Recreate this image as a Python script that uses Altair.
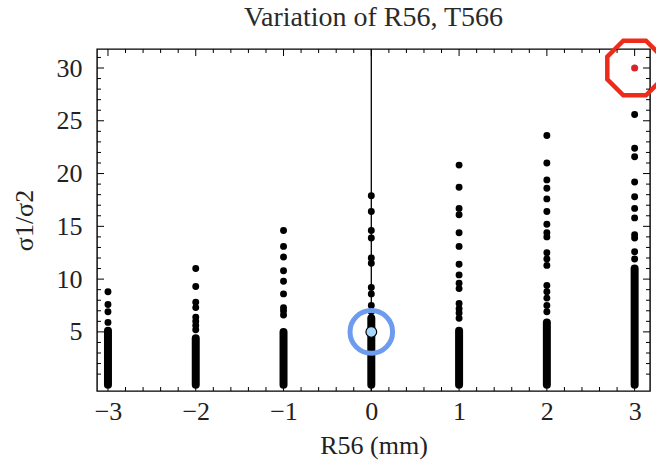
import altair as alt
import pandas as pd

# ---- data ----
x_cols = [-3, -2, -1, 0, 1, 2, 3]
# top of the densely packed (solid-looking) part of each column
dense_top = [5.1, 4.4, 5.0, 6.3, 5.1, 5.9, 11.0]
# separate points above the dense part
dots_m3 = [5.9, 6.9, 7.6, 8.8]
dots_m2 = [5.2, 5.6, 6.0, 6.4, 7.3, 7.8, 9.3, 11.0]
dots_m1 = [6.6, 7.0, 7.3, 8.6, 9.8, 10.8, 12.1, 13.1, 14.6]
dots_0 = [6.9, 7.5, 8.6, 9.2, 11.5, 12.0, 13.9, 14.6, 16.4, 17.9]
dots_p1 = [6.3, 6.8, 7.2, 7.7, 9.1, 9.6, 10.4, 11.4, 13.1, 14.4, 16.1, 16.7, 18.7, 20.8]
dots_p2 = [6.9, 7.5, 8.2, 8.8, 9.4, 11.3, 11.9, 12.5, 14.0, 14.4, 15.2, 16.4, 17.6, 18.6, 19.4, 21.0, 23.6]
dots_p3 = [11.9, 12.6, 13.9, 14.2, 15.8, 16.7, 17.8, 19.2, 21.6, 22.4, 25.6]
blue_pt = (0, 5.0)
red_pt = (3, 30.0)

x_major = [-3, -2, -1, 0, 1, 2, 3]
x_minor = [k / 5 for k in range(-15, 16) if k % 5 != 0]
y_major = [5, 10, 15, 20, 25, 30]
y_minor = [k for k in range(0, 32) if k % 5 != 0]

W, H = 553, 342
FONT = "Liberation Serif"
TXT = "#222222"
xs = alt.Scale(domain=[-3.125, 3.175], nice=False, zero=False)
ys = alt.Scale(domain=[-0.6, 31.8], nice=False, zero=False)

dense_df = pd.DataFrame({"x": x_cols, "y0": [0] * len(x_cols), "y1": dense_top})
rows = []
for xv, lst in zip(x_cols, [dots_m3, dots_m2, dots_m1, dots_0, dots_p1, dots_p2, dots_p3]):
    for v in lst:
        rows.append({"x": xv, "y": v})
dots_df = pd.DataFrame(rows)

common_axis = dict(tickSize=0, domain=False, grid=False,
                   labelFont=FONT, labelFontSize=26, labelColor=TXT,
                   titleFont=FONT, titleFontSize=26, titleColor=TXT, titleFontWeight="normal")
x_axis = alt.Axis(values=x_major, format="d", title="R56 (mm)", labelPadding=7, titlePadding=8,
                  **common_axis)
y_axis = alt.Axis(values=y_major, format="d", title="σ1/σ2", labelPadding=15, titlePadding=19,
                  **common_axis)
X = alt.X("x:Q", scale=xs, axis=x_axis)
Y = alt.Y("y:Q", scale=ys, axis=y_axis)

axis_line = alt.Chart(pd.DataFrame({"x": [0]})).mark_rule(color="black", strokeWidth=1.3).encode(x=X)

dense = alt.Chart(dense_df).mark_rule(color="black", strokeWidth=8, strokeCap="round").encode(
    x=X, y=alt.Y("y0:Q", scale=ys, axis=y_axis), y2="y1:Q")

dots = alt.Chart(dots_df).mark_circle(color="black", size=48, opacity=1).encode(x=X, y=Y)

blue_df = pd.DataFrame({"x": [blue_pt[0]], "y": [blue_pt[1]]})
red_df = pd.DataFrame({"x": [red_pt[0]], "y": [red_pt[1]]})

blue_ring = alt.Chart(blue_df).mark_point(shape="circle", size=1810, filled=False,
                                          stroke="#6d9cef", strokeWidth=5, opacity=1).encode(x=X, y=Y)
blue_dot = alt.Chart(blue_df).mark_point(shape="circle", size=115, filled=True, fill="#a9d6fb",
                                         stroke="black", strokeWidth=1.2, opacity=1).encode(x=X, y=Y)
red_dot = alt.Chart(red_df).mark_circle(color="#d6262a", size=50, opacity=1).encode(x=X, y=Y)
octagon = ("M0.924,0.383 L0.383,0.924 L-0.383,0.924 L-0.924,0.383 L-0.924,-0.383 "
           "L-0.383,-0.924 L0.383,-0.924 L0.924,-0.383 Z")
red_ring = alt.Chart(red_df).mark_point(shape=octagon, size=3500, filled=False,
                                        stroke="#ee2a1b", strokeWidth=4.5, opacity=1).encode(x=X, y=Y)

def vticks(vals, length, top):
    df = pd.DataFrame({"x": vals})
    if top:
        return alt.Chart(df).mark_rule(color="black", strokeWidth=1).encode(
            x=X, y=alt.value(0), y2=alt.value(length))
    return alt.Chart(df).mark_rule(color="black", strokeWidth=1).encode(
        x=X, y=alt.value(H), y2=alt.value(H - length))

def hticks(vals, length, right):
    df = pd.DataFrame({"y": vals})
    if right:
        return alt.Chart(df).mark_rule(color="black", strokeWidth=1).encode(
            y=Y, x=alt.value(W), x2=alt.value(W - length))
    return alt.Chart(df).mark_rule(color="black", strokeWidth=1).encode(
        y=Y, x=alt.value(0), x2=alt.value(length))

ticks = [
    vticks(x_major, 7, False), vticks(x_minor, 4, False),
    vticks(x_major, 7, True), vticks(x_minor, 4, True),
    hticks(y_major, 7, False), hticks(y_minor, 4, False),
    hticks(y_major, 7, True), hticks(y_minor, 4, True),
]

chart = alt.layer(dense, axis_line, dots, blue_ring, blue_dot, red_dot, red_ring, *ticks).properties(
    width=W, height=H,
    background="white",
    padding={"left": 97, "top": 49, "right": 6, "bottom": 69},
    autosize=alt.AutoSizeParams(type="none"),
    title=alt.TitleParams("Variation of R56, T566", font=FONT, fontSize=28, fontWeight="normal",
                          color="#2a2a2a", anchor="middle", offset=0, frame="group"),
).configure_view(stroke="black", strokeWidth=1.4)

chart.save("out.html", embed_options={"renderer": "svg", "actions": False})
